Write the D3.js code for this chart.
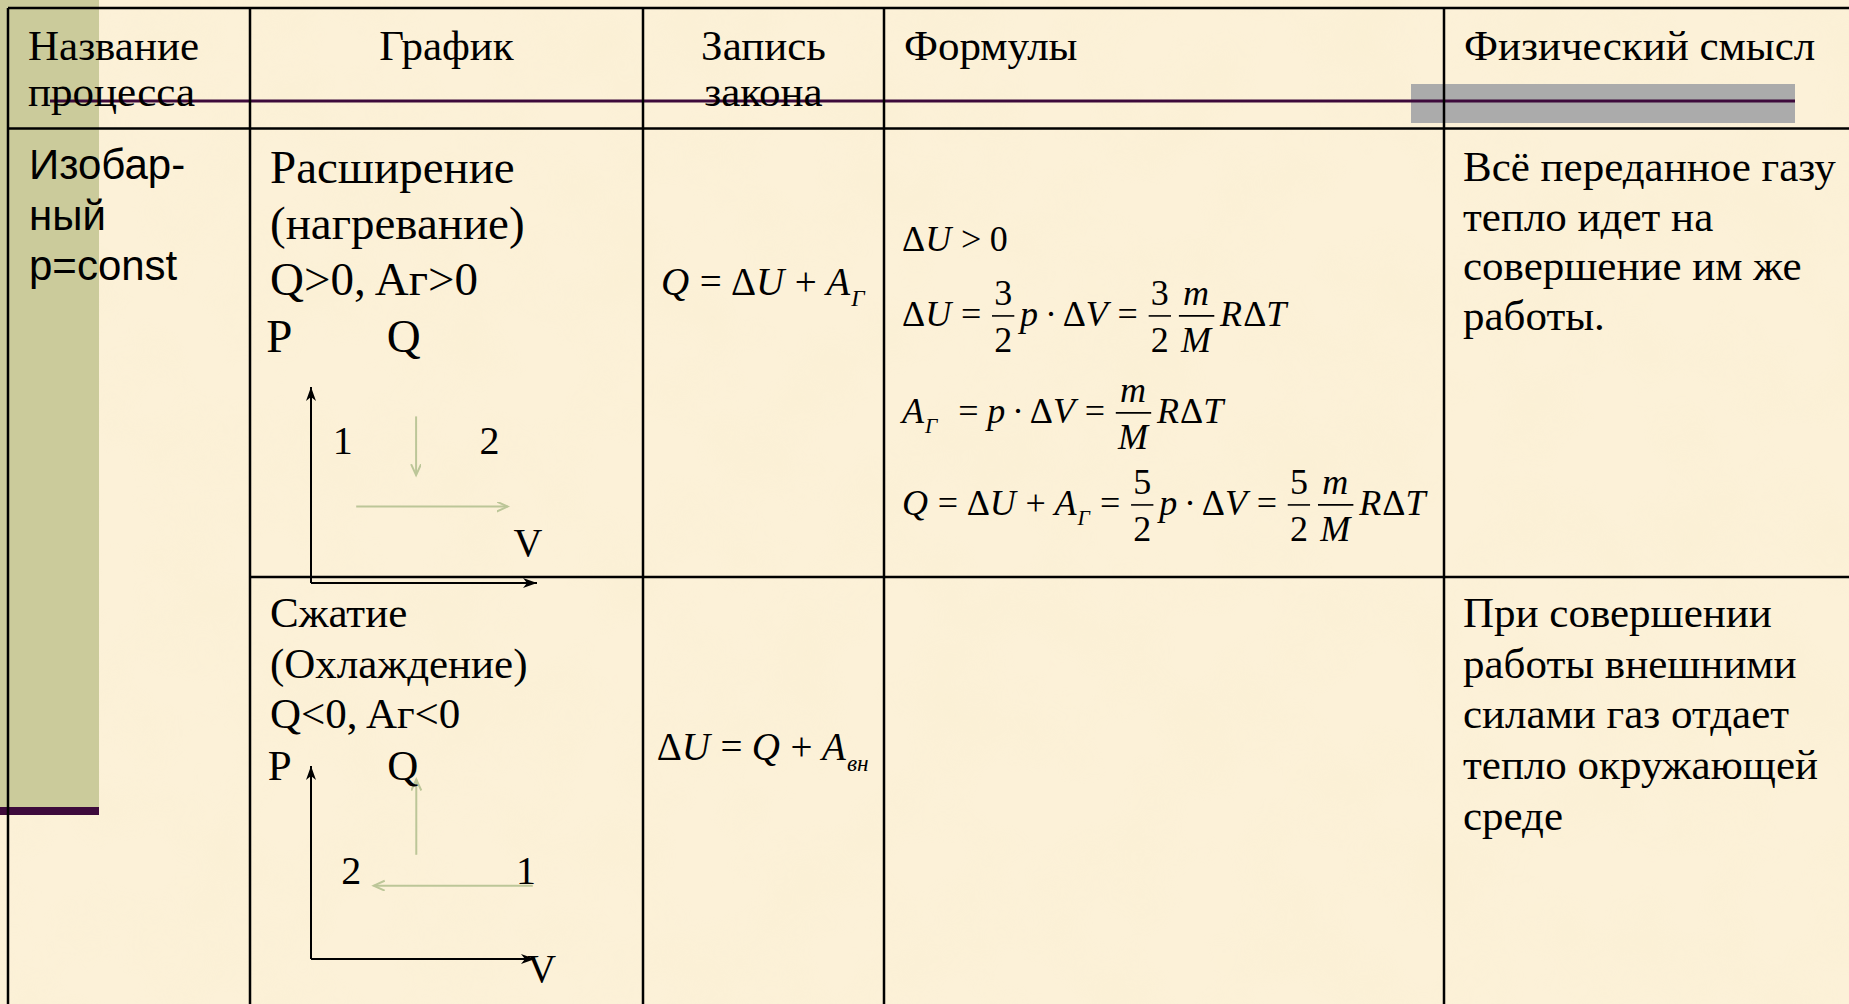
<!DOCTYPE html>
<meta charset="utf-8">
<style>
body { margin: 0; background: #fcf1d8; overflow: hidden; }
svg { display: block; }
text { fill: #000; }
.serif { font-family: "Liberation Serif", "Times New Roman", serif; }
.sans { font-family: "Liberation Sans", Arial, sans-serif; }
</style>
<body>
<script src="https://cdn.jsdelivr.net/npm/d3@7"></script>
<script>
// ---- table content ----
var headers = [["Название", "процесса"], ["График"], ["Запись", "закона"], ["Формулы"], ["Физический смысл"]];
var headerAlign = ["start", "middle", "middle", "start", "start"];
var processName = ["Изобар-", "ный", "p=const"];
var expansionText = ["Расширение", "(нагревание)", "Q>0, Aг>0"];
var compressionText = ["Сжатие", "(Охлаждение)", "Q<0, Aг<0"];
var meaningExpansion = ["Всё переданное газу", "тепло идет на", "совершение им же", "работы."];
var meaningCompression = ["При совершении", "работы внешними", "силами газ отдает", "тепло окружающей", "среде"];

// ---- P-V diagrams (diagram units: v to the right, p upwards) ----
var expansionAxisNames = [{t: "P", v: -0.14, p: 1.18}, {t: "Q", v: 0.41, p: 1.18}];
var expansionStates = [{t: "1", v: 0.14, p: 0.66}, {t: "2", v: 0.79, p: 0.66}, {t: "V", v: 0.96, p: 0.14}];
var expansionWork = [[0.20, 0.39], [0.87, 0.39]];
var expansionHeat = [[0.465, 0.85], [0.465, 0.55]];
var compressionAxisNames = [{t: "P", v: -0.14, p: 0.93}, {t: "Q", v: 0.41, p: 0.93}];
var compressionStates = [{t: "2", v: 0.18, p: 0.39}, {t: "1", v: 0.96, p: 0.39}, {t: "V", v: 1.03, p: -0.12}];
var compressionWork = [[0.99, 0.38], [0.28, 0.38]];
var compressionHeat = [[0.47, 0.54], [0.47, 0.93]];

// ---- formulas (s: upright, i: italic, op: operator, sub: subscript, sp: space, fr: fraction) ----
var lawExpansion = [{i: "Q"}, {op: "="}, {s: "Δ"}, {i: "U"}, {op: "+"}, {i: "A"}, {sub: "Г"}];
var lawCompression = [{s: "Δ"}, {i: "U"}, {op: "="}, {i: "Q"}, {op: "+"}, {i: "A"}, {sub: "вн"}];
var three = {fr: [[{s: "3"}], [{s: "2"}]]};
var five = {fr: [[{s: "5"}], [{s: "2"}]]};
var mM = {fr: [[{i: "m"}], [{i: "M"}]]};
var formulas = [
  [{s: "Δ"}, {i: "U"}, {op: ">"}, {s: "0"}],
  [{s: "Δ"}, {i: "U"}, {op: "="}, three, {i: "p"}, {op: "·"}, {s: "Δ"}, {i: "V"}, {op: "="}, three, mM, {i: "R"}, {s: "Δ"}, {i: "T"}],
  [{i: "A"}, {sub: "Г"}, {sp: 0.3}, {op: "="}, {i: "p"}, {op: "·"}, {s: "Δ"}, {i: "V"}, {op: "="}, mM, {i: "R"}, {s: "Δ"}, {i: "T"}],
  [{i: "Q"}, {op: "="}, {s: "Δ"}, {i: "U"}, {op: "+"}, {i: "A"}, {sub: "Г"}, {op: "="}, five, {i: "p"}, {op: "·"}, {s: "Δ"}, {i: "V"}, {op: "="}, five, mM, {i: "R"}, {s: "Δ"}, {i: "T"}]
];

// ---- layout ----
var W = 1849, H = 1004;
var colX = [8, 250, 643, 884, 1444];
var headerBottom = 128.5, rowSplit = 577;
var pad = 20;

var svg = d3.select("body").append("svg").attr("width", W).attr("height", H);

var defs = svg.append("defs");
defs.append("marker").attr("id", "axisHead")
  .attr("markerUnits", "userSpaceOnUse").attr("markerWidth", 16).attr("markerHeight", 12)
  .attr("refX", 14).attr("refY", 5).attr("orient", "auto")
  .append("path").attr("d", "M0,0 L14,5 L0,10 L4,5 Z").attr("fill", "#000");
defs.append("marker").attr("id", "heatHead")
  .attr("markerUnits", "userSpaceOnUse").attr("markerWidth", 14).attr("markerHeight", 12)
  .attr("refX", 11).attr("refY", 5).attr("orient", "auto")
  .append("path").attr("d", "M0,0 L11,5 L0,10").attr("fill", "none")
  .attr("stroke", "#bcc698").attr("stroke-width", 2);
var paper = defs.append("filter").attr("id", "paper").attr("x", 0).attr("y", 0).attr("width", 1).attr("height", 1);
paper.append("feTurbulence").attr("type", "fractalNoise").attr("baseFrequency", 0.012)
  .attr("numOctaves", 3).attr("seed", 7);
paper.append("feColorMatrix").attr("type", "matrix")
  .attr("values", "0 0 0 0 0.93  0 0 0 0 0.84  0 0 0 0 0.6  1.3 0 0 0 -0.5");

// background + template decorations
svg.append("rect").attr("width", W).attr("height", H).attr("fill", "#fcf1d8");
svg.append("rect").attr("width", W).attr("height", H).attr("filter", "url(#paper)").attr("opacity", 0.35);
svg.append("rect").attr("x", 0).attr("y", 0).attr("width", 99).attr("height", 807).attr("fill", "#cbcb9b");
svg.append("rect").attr("x", 0).attr("y", 807).attr("width", 99).attr("height", 8).attr("fill", "#3d0a3b");
svg.append("rect").attr("x", 1411).attr("y", 84).attr("width", 384).attr("height", 39).attr("fill", "#ababab");
svg.append("line").attr("x1", 50).attr("x2", 1795).attr("y1", 101).attr("y2", 101)
  .attr("stroke", "#3d0a3b").attr("stroke-width", 3);

// table grid
var grid = svg.append("g").attr("stroke", "#000").attr("stroke-width", 2.5);
grid.append("line").attr("x1", colX[0]).attr("x2", W).attr("y1", 8).attr("y2", 8);
grid.append("line").attr("x1", colX[0]).attr("x2", W).attr("y1", headerBottom).attr("y2", headerBottom);
grid.append("line").attr("x1", colX[1]).attr("x2", W).attr("y1", rowSplit).attr("y2", rowSplit);
colX.forEach(function(x) {
  grid.append("line").attr("x1", x).attr("x2", x).attr("y1", 8).attr("y2", H);
});

// plain text lines
function lines(list, x, y0, step, size, cls, anchor) {
  var t = svg.append("text").attr("class", cls).attr("font-size", size).attr("text-anchor", anchor || "start");
  list.forEach(function(s, k) {
    t.append("tspan").attr("x", x).attr("y", y0 + k * step).text(s);
  });
}

// header
var colRight = colX.slice(1).concat([1849]);
headers.forEach(function(h, k) {
  var x = headerAlign[k] === "middle" ? (colX[k] + colRight[k]) / 2 : colX[k] + pad;
  lines(h, x, 60, 46, 43, "serif", headerAlign[k]);
});

lines(processName, colX[0] + 21, 179, 50.5, 42, "sans");
lines(expansionText, colX[1] + pad, 183, 56, 47, "serif");
lines(compressionText, colX[1] + pad, 627, 50.7, 43, "serif");
lines(meaningExpansion, colX[4] + 19, 181, 49.7, 43, "serif");
lines(meaningCompression, colX[4] + 19, 627, 50.7, 43, "serif");

// P-V diagram
function diagram(box, names, states, work, heat, nameSize) {
  var x = d3.scaleLinear().domain([0, 1]).range([box.x0, box.x1]);
  var y = d3.scaleLinear().domain([0, 1]).range([box.y0, box.y1]);
  var g = svg.append("g");
  var line = d3.line().x(function(d) { return x(d[0]); }).y(function(d) { return y(d[1]); });
  g.append("path").attr("d", line([[0, 0], [0, 1]])).attr("stroke", "#000").attr("stroke-width", 2)
    .attr("fill", "none").attr("marker-end", "url(#axisHead)");
  g.append("path").attr("d", line([[0, 0], [1, 0]])).attr("stroke", "#000").attr("stroke-width", 2)
    .attr("fill", "none").attr("marker-end", "url(#axisHead)");
  [work, heat].forEach(function(a) {
    g.append("path").attr("d", line(a)).attr("stroke", "#bcc698").attr("stroke-width", 2)
      .attr("fill", "none").attr("marker-end", "url(#heatHead)");
  });
  [[names, nameSize], [states, 40]].forEach(function(set) {
    g.append("g").selectAll("text").data(set[0]).enter().append("text").attr("class", "serif")
      .attr("font-size", set[1]).attr("text-anchor", "middle")
      .attr("x", function(d) { return x(d.v); }).attr("y", function(d) { return y(d.p); })
      .text(function(d) { return d.t; });
  });
}
diagram({x0: 311, x1: 537, y0: 583, y1: 387}, expansionAxisNames, expansionStates, expansionWork, expansionHeat, 47);
diagram({x0: 311, x1: 535, y0: 959, y1: 766}, compressionAxisNames, compressionStates, compressionWork, compressionHeat, 43);

// equation layout
function piece(g, str, x, y, size, italic) {
  var t = g.append("text").attr("class", "serif").attr("font-size", size)
    .attr("x", x).attr("y", y).text(str);
  if (italic) t.attr("font-style", "italic");
  return t.node().getComputedTextLength();
}
function run(g, tokens, x, y, size) {
  var x0 = x;
  tokens.forEach(function(tk) {
    if (tk.s !== undefined) x += piece(g, tk.s, x, y, size, false);
    else if (tk.i !== undefined) x += piece(g, tk.i, x, y, size, true) + size * 0.03;
    else if (tk.sp !== undefined) x += size * tk.sp;
    else if (tk.op !== undefined) {
      var p = tk.op === "·" ? 0.16 : 0.24;
      x += size * p;
      x += piece(g, tk.op, x, y, size, false);
      x += size * p;
    } else if (tk.sub !== undefined) {
      x += piece(g, tk.sub, x, y + size * 0.27, size * 0.6, true) + size * 0.04;
    } else if (tk.fr) {
      x += size * 0.06;
      var num = g.append("g"), den = g.append("g");
      var wn = run(num, tk.fr[0], 0, y - size * 0.58, size);
      var wd = run(den, tk.fr[1], 0, y + size * 0.72, size);
      var w = Math.max(wn, wd) + size * 0.12;
      num.attr("transform", "translate(" + (x + (w - wn) / 2) + ",0)");
      den.attr("transform", "translate(" + (x + (w - wd) / 2) + ",0)");
      g.append("line").attr("x1", x).attr("x2", x + w)
        .attr("y1", y - size * 0.28).attr("y2", y - size * 0.28)
        .attr("stroke", "#000").attr("stroke-width", 1.6);
      x += w + size * 0.16;
    }
  });
  return x - x0;
}
function centered(tokens, cx, y, size) {
  var g = svg.append("g");
  var w = run(g, tokens, 0, y, size);
  g.attr("transform", "translate(" + (cx - w / 2) + ",0)");
}

var lawCenter = (colX[2] + colX[3]) / 2;
centered(lawExpansion, lawCenter, 295, 39);
centered(lawCompression, lawCenter, 760, 39);

var formulaBaselines = [251, 326, 423, 515];
formulas.forEach(function(f, k) {
  run(svg.append("g"), f, colX[3] + 18, formulaBaselines[k], 36);
});
</script>
</body>
